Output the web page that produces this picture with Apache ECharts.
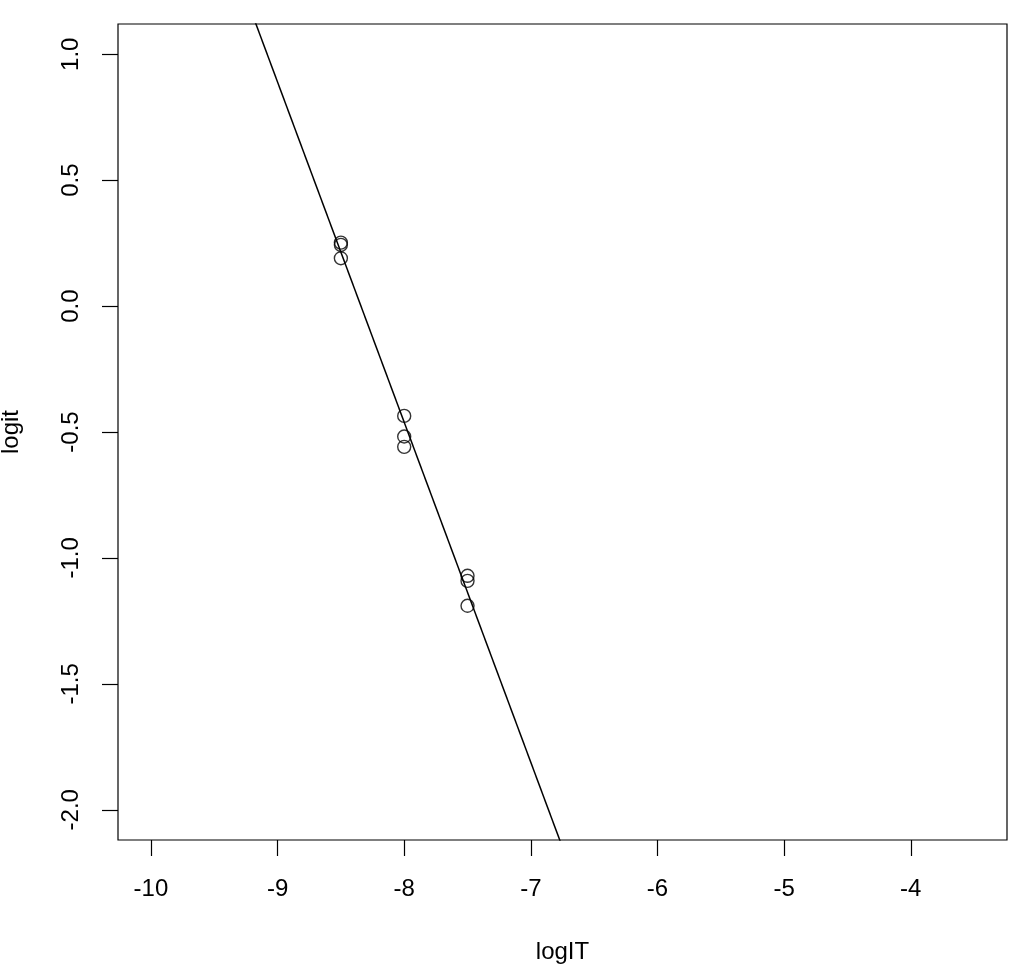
<!DOCTYPE html>
<html>
<head>
<meta charset="utf-8">
<script src="https://cdn.jsdelivr.net/npm/echarts@6/dist/echarts.min.js"></script>
<style>html,body{margin:0;padding:0;background:#fff}#c{width:1024px;height:976px}</style>
</head>
<body>
<div id="c"></div>
<script>
const xValues = [-8.5, -8.5, -8.5, -8.0, -8.0, -8.0, -7.5, -7.5, -7.5];
const yValues = [0.252, 0.243, 0.190, -0.436, -0.518, -0.559, -1.071, -1.091, -1.190];
const xTicks = [-10, -9, -8, -7, -6, -5, -4];
const yTicks = [-2.0, -1.5, -1.0, -0.5, 0.0, 0.5, 1.0];
const fitSlope = -1.3506;
const fitIntercept = -11.266;
const xRange = [-10.26, -3.24];
const yRange = [-2.12, 1.12];

const points = xValues.map((x, i) => [x, yValues[i]]);
const fitLine = xRange.map(x => [x, fitIntercept + fitSlope * x]);

const font = 'Liberation Sans, Arial, sans-serif';
const chart = echarts.init(document.getElementById('c'));
chart.setOption({
  animation: false,
  grid: {left: 118, right: 17, top: 24, bottom: 136, show: true, borderColor: '#000', borderWidth: 1.2,
         containLabel: false, outerBoundsMode: 'none'},
  xAxis: {
    type: 'value', min: xRange[0], max: xRange[1],
    name: 'logIT', nameLocation: 'middle', nameGap: 100,
    nameTextStyle: {color: '#000', fontSize: 24, fontFamily: font},
    axisLine: {show: false, onZero: false},
    splitLine: {show: false},
    axisTick: {show: true, inside: false, length: 16, lineStyle: {color: '#000', width: 1.2}, customValues: xTicks},
    axisLabel: {color: '#000', fontSize: 24, fontFamily: font, margin: 37, customValues: xTicks, formatter: v => String(v)}
  },
  yAxis: {
    type: 'value', min: yRange[0], max: yRange[1],
    name: 'logit', nameLocation: 'middle', nameGap: 95, nameRotate: 90,
    nameTextStyle: {color: '#000', fontSize: 24, fontFamily: font},
    axisLine: {show: false, onZero: false},
    splitLine: {show: false},
    axisTick: {show: true, inside: false, length: 16, lineStyle: {color: '#000', width: 1.2}, customValues: yTicks},
    axisLabel: {color: '#000', fontSize: 24, fontFamily: font, margin: 35, rotate: 90, customValues: yTicks, formatter: v => v.toFixed(1)}
  },
  series: [
    {type: 'line', data: fitLine, showSymbol: false, lineStyle: {color: '#000', width: 1.5}, clip: true, silent: true},
    {type: 'scatter', data: points, symbol: 'circle', symbolSize: 13,
     itemStyle: {color: 'rgba(0,0,0,0)', borderColor: '#000', borderWidth: 1.4}}
  ]
});
</script>
</body>
</html>
